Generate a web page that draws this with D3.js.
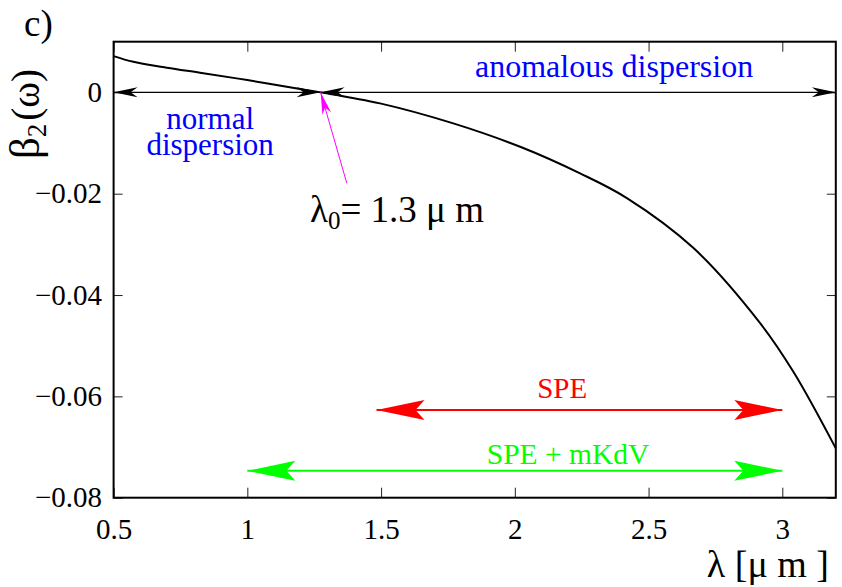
<!DOCTYPE html>
<html>
<head>
<meta charset="utf-8">
<script src="https://cdn.jsdelivr.net/npm/d3@7"></script>
<style>
  body { margin: 0; background: #fff; }
  svg { font-family: "Liberation Serif", "Times New Roman", "DejaVu Serif", serif; }
</style>
</head>
<body>
<svg width="842" height="587"></svg>
<script>
// dispersion curve
var lambda = [0.5, 0.574, 0.699, 0.823, 1.0, 1.197, 1.274, 1.496, 1.77, 2.02, 2.244, 2.419, 2.668, 2.917, 3.042, 3.2];
var beta2  = [0.00716, 0.00604, 0.00486, 0.00387, 0.00243, 0.00065, 0.0, -0.00217, -0.00612, -0.01074, -0.01599, -0.02086, -0.03073, -0.04554, -0.0552, -0.07026];

var xTicks = [0.5, 1, 1.5, 2, 2.5, 3];
var yTicks = [0, -0.02, -0.04, -0.06, -0.08];

// annotation ranges
var lambda0 = 1.274;
var normalRange = [0.5, lambda0];
var anomalousRange = [lambda0, 3.2];
var speRange = [1.483, 3.0], speLevel = -0.0627;
var mkdvRange = [1.0, 3.0], mkdvLevel = -0.0747;
var pointerFrom = [1.372, -0.01796];

var svg = d3.select("svg"),
    margin = {top: 41.7, right: 6.2, bottom: 89.3, left: 113.6},
    width = +svg.attr("width") - margin.left - margin.right,
    height = +svg.attr("height") - margin.top - margin.bottom;

var x = d3.scaleLinear().domain([0.5, 3.2]).range([0, width]),
    y = d3.scaleLinear().domain([-0.08, 0.01]).range([height, 0]);

var g = svg.append("g")
    .attr("transform", "translate(" + margin.left + "," + margin.top + ")");

var fmtY = function(d) { return d === 0 ? "0" : "\u2212" + Math.abs(d); };

// axes with inward ticks (mirrored on top/right)
g.append("g")
    .attr("transform", "translate(0," + height + ")")
    .call(d3.axisBottom(x).tickValues(xTicks).tickSize(-10).tickPadding(21).tickFormat(d3.format("")));
g.append("g")
    .call(d3.axisLeft(y).tickValues(yTicks).tickSize(-9).tickPadding(11.6).tickFormat(fmtY));
g.append("g")
    .call(d3.axisTop(x).tickValues(xTicks).tickSize(-10).tickFormat(""));
g.append("g")
    .attr("transform", "translate(" + width + ",0)")
    .call(d3.axisRight(y).tickValues(yTicks).tickSize(-9).tickFormat(""));

g.selectAll(".domain").remove();
g.selectAll(".tick line").attr("stroke", "#222").attr("stroke-width", 1);
g.selectAll(".tick text")
    .attr("font-family", "Liberation Serif, Times New Roman, serif")
    .attr("font-size", 29)
    .attr("fill", "#000");

// frame
g.append("rect")
    .attr("width", width)
    .attr("height", height)
    .attr("fill", "none")
    .attr("stroke", "#000")
    .attr("stroke-width", 2);

// curve
var line = d3.line()
    .x(function(d, i) { return x(lambda[i]); })
    .y(function(d, i) { return y(beta2[i]); })
    .curve(d3.curveCatmullRom.alpha(0.5));

g.append("path")
    .datum(beta2)
    .attr("fill", "none")
    .attr("stroke", "#000")
    .attr("stroke-width", 2)
    .attr("d", line);

// notched arrow head with tip at (tx,ty), pointing from (fx,fy)
function head(fx, fy, tx, ty, len, hw, notch, color) {
  var a = Math.atan2(ty - fy, tx - fx),
      c = Math.cos(a), s = Math.sin(a);
  var bx = tx - len * c, by = ty - len * s,
      nx = tx - (len - notch) * c, ny = ty - (len - notch) * s;
  var pts = [[tx, ty], [bx - hw * s, by + hw * c], [nx, ny], [bx + hw * s, by - hw * c]];
  g.append("path")
      .attr("d", "M" + pts.join("L") + "Z")
      .attr("fill", color);
}

function arrow(x1, y1, x2, y2, opt) {
  g.append("line")
      .attr("x1", x1).attr("y1", y1)
      .attr("x2", x2).attr("y2", y2)
      .attr("stroke", opt.color)
      .attr("stroke-width", opt.width);
  if (opt.both) head(x2, y2, x1, y1, opt.len, opt.hw, opt.notch, opt.color);
  head(x1, y1, x2, y2, opt.len, opt.hw, opt.notch, opt.color);
}

var blackOpt = {color: "#000", width: 1.3, len: 24, hw: 5, notch: 7, both: true};
arrow(x(normalRange[0]), y(0), x(normalRange[1]), y(0), blackOpt);
arrow(x(anomalousRange[0]), y(0), x(anomalousRange[1]), y(0), blackOpt);

arrow(x(speRange[0]), y(speLevel), x(speRange[1]), y(speLevel),
      {color: "#ff0000", width: 2, len: 48, hw: 10, notch: 9, both: true});
arrow(x(mkdvRange[0]), y(mkdvLevel), x(mkdvRange[1]), y(mkdvLevel),
      {color: "#00ff00", width: 2, len: 48, hw: 10, notch: 9, both: true});

arrow(x(pointerFrom[0]), y(pointerFrom[1]), x(lambda0), y(0),
      {color: "#ff00ff", width: 1, len: 22, hw: 4.5, notch: 6, both: false});

// labels
function label(tx, ty, str, size, color, anchor) {
  return g.append("text")
      .attr("x", tx).attr("y", ty)
      .attr("font-size", size)
      .attr("fill", color)
      .attr("text-anchor", anchor || "middle")
      .text(str);
}

var nd = label(x(0.861), y(-0.00727), "", 31, "#0000ff");
nd.append("tspan").attr("x", x(0.861)).text("normal");
nd.append("tspan").attr("x", x(0.861)).attr("dy", 25.5).text("dispersion");

label(x(2.371), y(0.00308), "anomalous dispersion", 32, "#0000ff");
label(x(2.177), y(-0.0604), "SPE", 29, "#ff0000");
label(x(2.199), y(-0.0734), "SPE + mKdV", 29.5, "#00ff00");

var l0 = label(x(1.2345), y(-0.02554), "", 37, "#000", "start");
l0.append("tspan").text("\u03bb");
l0.append("tspan").attr("font-size", 25).attr("dy", 7).text("0");
l0.append("tspan").attr("dy", -7).text("= 1.3 \u03bc m");

// panel tag and axis titles
svg.append("text")
    .attr("x", 24).attr("y", 36)
    .attr("font-size", 37)
    .text("c)");

var yl = svg.append("text")
    .attr("transform", "translate(39,114) rotate(-90)")
    .attr("text-anchor", "middle")
    .attr("font-size", 39);
yl.append("tspan").attr("font-size", 43).text("\u03b2");
yl.append("tspan").attr("font-size", 27).attr("dy", 7).text("2");
yl.append("tspan").attr("dy", -7).attr("dx", 3).text("(\u03c9)");

svg.append("text")
    .attr("x", 829).attr("y", 577)
    .attr("text-anchor", "end")
    .attr("font-size", 38)
    .text("\u03bb [\u03bc m ]");
</script>
</body>
</html>
